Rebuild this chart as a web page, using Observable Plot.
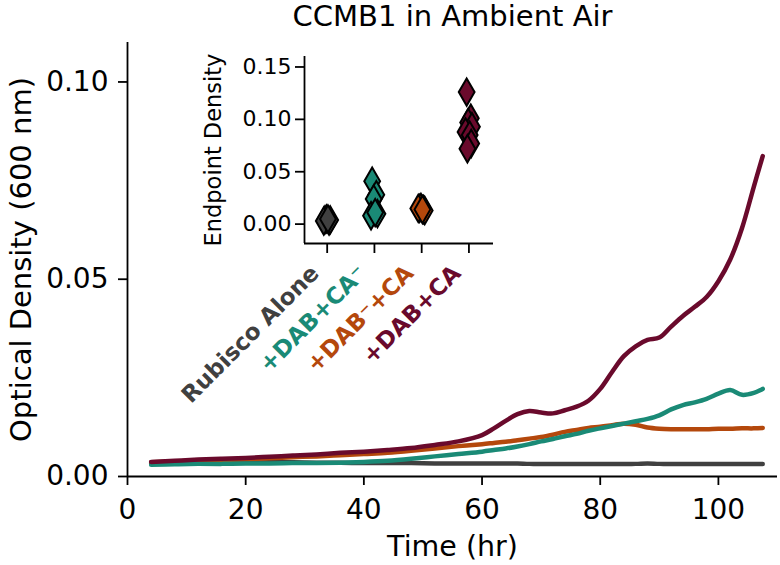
<!DOCTYPE html>
<html><head><meta charset="utf-8">
<script src="https://cdn.jsdelivr.net/npm/d3@7"></script>
<script src="https://cdn.jsdelivr.net/npm/@observablehq/plot@0.6"></script>
<style>
html,body{margin:0;padding:0;background:#fff;}
#wrap{position:relative;width:780px;height:565px;font-family:"DejaVu Sans";}
#wrap svg{position:absolute;left:0;top:0;}
</style></head><body><div id="wrap"></div>
<script>
// ---- main growth curves ----
const time = [4,8,12,16,20,24,28,32,36,40,44,48,52,56,60,62,64,66,68,70,72,74,76,78,80,82,84,86,88,90,92,94,96,98,100,102,104,106,107.5];
const rubiscoAlone = [0.0033,0.0034,0.0034,0.0035,0.0035,0.0036,0.0036,0.0035,0.0035,0.0034,0.0034,0.0034,0.0033,0.0033,0.0033,0.0033,0.0033,0.0033,0.0032,0.0032,0.0032,0.0032,0.0032,0.0032,0.0032,0.0032,0.0032,0.0032,0.0033,0.0032,0.0032,0.0032,0.0032,0.0032,0.0032,0.0032,0.0032,0.0032,0.0032];
const dabCaMinus = [0.0030,0.0031,0.0032,0.0032,0.0033,0.0033,0.0034,0.0034,0.0035,0.0037,0.0040,0.0045,0.0051,0.0057,0.0063,0.0067,0.0071,0.0076,0.0082,0.0089,0.0095,0.0102,0.0108,0.0116,0.0122,0.0128,0.0134,0.0140,0.0146,0.0155,0.0170,0.0181,0.0188,0.0197,0.0210,0.0219,0.0207,0.0212,0.0222];
const dabMinusCa = [0.0036,0.0038,0.0040,0.0042,0.0044,0.0046,0.0049,0.0051,0.0054,0.0057,0.0060,0.0065,0.0071,0.0077,0.0082,0.0085,0.0088,0.0092,0.0096,0.0100,0.0106,0.0113,0.0118,0.0123,0.0126,0.0130,0.0134,0.0131,0.0124,0.0121,0.0120,0.0120,0.0120,0.0120,0.0121,0.0121,0.0122,0.0122,0.0123];
const dabCa = [0.0037,0.0040,0.0043,0.0045,0.0047,0.0050,0.0053,0.0056,0.0060,0.0063,0.0067,0.0072,0.0080,0.0089,0.0105,0.0122,0.0141,0.0158,0.0166,0.0162,0.0160,0.0168,0.0177,0.0192,0.0222,0.0265,0.0305,0.0330,0.0346,0.0352,0.0380,0.0407,0.0430,0.0455,0.0495,0.0550,0.0630,0.0735,0.0812];

const categories = ["Rubisco Alone","+DAB+CA\u207B","+DAB\u207B+CA","+DAB+CA"];
const colors = ["#404040","#1a8a76","#b4480c","#6a0a2c"];
const xTicks = [0,20,40,60,80,100];
const yTicks = [0,0.05,0.10];

// ---- inset endpoint densities ----
const endRubisco = [0.004,0.003,0.005,0.004,0.003,0.005];
const endDabCaMinus = [0.041,0.028,0.024,0.010,0.008,0.011];
const endDabMinusCa = [0.015,0.014,0.016,0.013,0.015,0.014];
const endDabCa = [0.126,0.101,0.097,0.093,0.088,0.085,0.077,0.072];
const jitter = [-0.06,0.05,-0.02,0.08,-0.09,0.02,0.06,-0.04];
const insetTicks = [0,0.05,0.10,0.15];

const series = [rubiscoAlone, dabCaMinus, dabMinusCa, dabCa];
const drawOrder = [0,2,1,3];
const fmt = d3.format(".2f");

const lineMarks = drawOrder.map(i =>
  Plot.line(time.map((t,j)=>({t, v: series[i][j]})),
    {x:"t", y:"v", stroke: colors[i], strokeWidth: 4.5, curve: "catmull-rom"}));

const main = Plot.plot({
  width: 780, height: 565,
  marginLeft: 127, marginRight: 3, marginTop: 42, marginBottom: 89,
  style: {background: "#fff", fontFamily: "DejaVu Sans", fontSize: "28px", color: "#000"},
  x: {domain: [0, 110]},
  y: {domain: [0, 0.11]},
  marks: [
    Plot.axisX({ticks: xTicks, tickSize: 9, tickPadding: 14, label: null, strokeWidth: 1.8, fontSize: 28}),
    Plot.axisY({ticks: yTicks, tickFormat: fmt, tickSize: 9, tickPadding: 10, label: null, strokeWidth: 1.8, fontSize: 28}),
    ...lineMarks,
    Plot.ruleX([0], {stroke: "#000", strokeWidth: 1.8}),
    Plot.ruleY([0], {stroke: "#000", strokeWidth: 1.8}),
    Plot.text(["CCMB1 in Ambient Air"], {text: d=>d, frameAnchor: "top", textAnchor: "middle", lineAnchor: "middle", dy: -26, fontSize: 29}),
    Plot.text(["Time (hr)"], {text: d=>d, frameAnchor: "bottom", textAnchor: "middle", lineAnchor: "middle", dy: 70, fontSize: 28.5}),
    Plot.text(["Optical Density (600 nm)"], {text: d=>d, frameAnchor: "left", textAnchor: "middle", lineAnchor: "middle", dx: -106, rotate: -90, fontSize: 29})
  ]
});

const pts = [];
[endRubisco, endDabCaMinus, endDabMinusCa, endDabCa].forEach((arr, c) =>
  arr.forEach((v, k) => pts.push({c, v, j: jitter[k]})));

const inset = Plot.plot({
  width: 780, height: 565,
  marginLeft: 304, marginRight: 287, marginTop: 56, marginBottom: 322,
  style: {background: "transparent", fontFamily: "DejaVu Sans", fontSize: "22px", color: "#000", overflow: "visible"},
  x: {domain: [-0.48, 3.52]},
  y: {domain: [-0.0185, 0.16]},
  marks: [
    Plot.axisX({ticks: [0,1,2,3], tickFormat: () => "", tickSize: 10, label: null, strokeWidth: 1.8}),
    Plot.axisY({ticks: insetTicks, tickFormat: fmt, tickSize: 9, tickPadding: 4, label: null, strokeWidth: 1.8, fontSize: 22}),
    Plot.ruleX([-0.48], {stroke: "#000", strokeWidth: 1.8}),
    Plot.ruleY([-0.0185], {stroke: "#000", strokeWidth: 1.8}),
    ...[0,1,2,3].map(c => Plot.dot(pts.filter(p => p.c === c),
      {x: p => p.c + p.j * 0.8, y: "v", symbol: "diamond", r: 8.3, fill: colors[c], stroke: "#000", strokeWidth: 2})),
    ...[0,1,2,3].map(c => Plot.text([categories[c]],
      {text: d=>d, x: () => c, frameAnchor: "bottom", dy: 26, dx: -12, rotate: -45, textAnchor: "end", lineAnchor: "middle",
       fill: colors[c], fontWeight: "bold", fontSize: 23})),
    Plot.text(["Endpoint Density"], {text: d=>d, frameAnchor: "left", textAnchor: "middle", lineAnchor: "middle", dx: -91, rotate: -90, fontSize: 22.5})
  ]
});

const wrap = document.getElementById("wrap");
wrap.appendChild(main);
wrap.appendChild(inset);
</script>
</body></html>
